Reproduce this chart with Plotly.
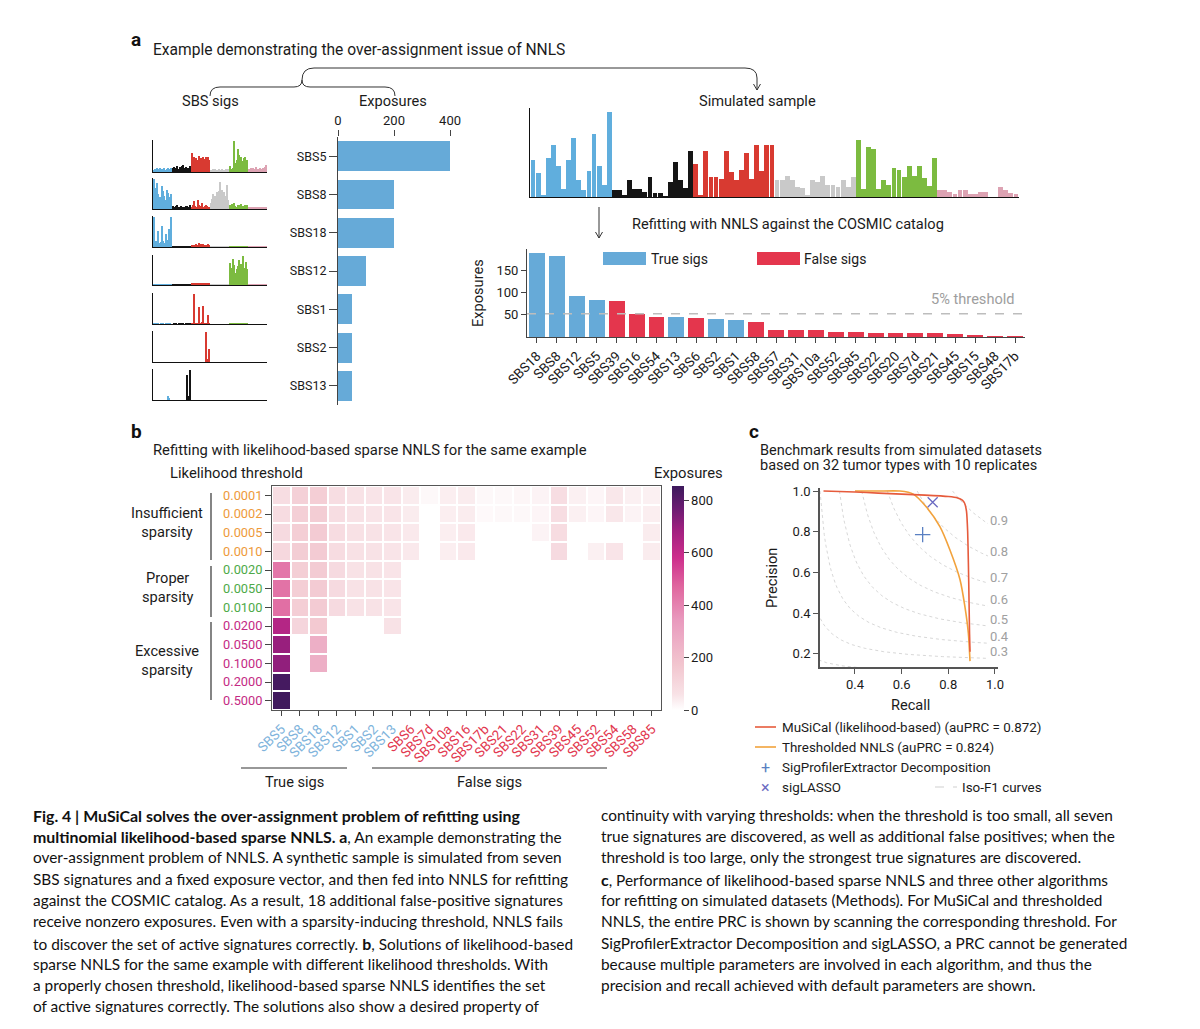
import numpy as np
import plotly.graph_objects as go

W, H = 1200, 1029
OFF = 8  # page body margin offset
FONT = "Roboto"
CAP_FONT = "Lato"
TXT = "#1b1b1b"

def fx(x):
    return (x - OFF) / W

def fy(y):
    return 1 - (y - OFF) / H

# ---------------- data ----------------
group_colors = ["#60AEDD", "#151515", "#D83A31", "#C9C9C9", "#7CBB40", "#DDA3B3"]

sig_names = ["SBS5", "SBS8", "SBS18", "SBS12", "SBS1", "SBS2", "SBS13"]
sig_sbs5 = [8, 10, 6, 12, 9, 14, 7, 11, 6, 12, 8, 10, 14, 9, 11, 13,
            12, 16, 9, 14, 18, 10, 15, 11, 19, 22, 12, 16, 10, 14, 13, 20,
            62, 34, 48, 40, 46, 38, 52, 36, 44, 38, 50, 42, 48, 36, 50, 40,
            8, 6, 9, 7, 10, 8, 6, 9, 7, 8, 9, 6, 8, 9, 7, 10,
            18, 10, 8, 12, 100, 30, 40, 75, 55, 40, 48, 35, 45, 50, 30, 38,
            10, 8, 12, 9, 14, 10, 15, 8, 11, 9, 13, 10, 12, 9, 16, 24]
sig_sbs8 = [100, 70, 55, 88, 50, 40, 35, 76, 60, 45, 30, 63, 55, 40, 30, 51,
            10, 8, 6, 9, 12, 8, 6, 10, 8, 7, 6, 9, 10, 8, 7, 12,
            8, 12, 27, 10, 8, 30, 12, 6, 11, 20, 8, 10, 14, 9, 6, 8,
            20, 35, 51, 28, 45, 57, 30, 60, 90, 40, 63, 57, 35, 45, 82, 30,
            14, 10, 18, 12, 20, 10, 8, 15, 12, 9, 18, 10, 8, 14, 10, 12,
            6, 5, 8, 4, 6, 7, 5, 6, 8, 5, 6, 4, 7, 6, 5, 6]
sig_sbs18 = [100, 15, 20, 10, 55, 12, 18, 72, 20, 12, 43, 15, 25, 60, 18, 100,
             2, 1, 2, 1, 2, 1, 1, 2, 1, 1, 2, 1, 1, 1, 2, 1,
             5, 3, 8, 4, 10, 6, 12, 5, 9, 4, 11, 6, 8, 5, 10, 4,
             1, 1, 1, 1, 1, 1, 1, 1, 1, 1, 1, 1, 1, 1, 1, 1,
             1, 1, 1, 1, 1, 1, 1, 1, 1, 1, 1, 1, 1, 1, 1, 1,
             1, 1, 1, 1, 1, 1, 1, 1, 1, 1, 1, 1, 1, 1, 1, 1]
sig_sbs12 = [3, 2, 3, 2, 3, 2, 3, 2, 3, 2, 3, 2, 3, 2, 3, 2,
             2, 2, 3, 2, 2, 3, 2, 2, 3, 2, 2, 3, 2, 2, 3, 2,
             4, 6, 3, 5, 7, 4, 6, 3, 5, 8, 4, 6, 3, 7, 4, 5,
             1, 1, 1, 1, 1, 1, 1, 1, 1, 1, 1, 1, 1, 1, 1, 1,
             78, 45, 60, 90, 70, 40, 55, 65, 85, 50, 72, 100, 60, 45, 80, 55,
             2, 2, 2, 2, 2, 2, 2, 2, 2, 2, 2, 2, 2, 2, 2, 2]
sig_sbs1 = [1, 0, 1, 0, 1, 0, 1, 0, 1, 0, 1, 0, 1, 0, 1, 0,
            0, 1, 0, 1, 0, 1, 0, 1, 0, 1, 0, 1, 0, 1, 0, 1,
            2, 3, 100, 2, 3, 2, 56, 3, 2, 4, 60, 2, 1, 3, 31, 2,
            0, 0, 0, 0, 0, 0, 0, 0, 0, 0, 0, 0, 0, 0, 0, 0,
            1, 1, 2, 1, 1, 1, 1, 1, 2, 1, 1, 1, 1, 1, 2, 1,
            0, 0, 0, 0, 0, 0, 0, 0, 0, 0, 0, 0, 0, 0, 0, 0]
sig_sbs2 = [0, 0, 0, 0, 0, 0, 0, 0, 0, 0, 0, 0, 0, 0, 0, 0,
            0, 0, 0, 0, 0, 0, 0, 0, 0, 0, 0, 0, 0, 0, 0, 0,
            0, 0, 0, 0, 0, 0, 0, 0, 0, 0, 0, 0, 100, 10, 0, 45,
            0, 0, 0, 0, 0, 0, 0, 0, 0, 0, 0, 0, 0, 0, 0, 0,
            0, 0, 0, 0, 0, 0, 0, 0, 0, 0, 0, 0, 0, 0, 0, 0,
            0, 0, 0, 0, 0, 0, 0, 0, 0, 0, 0, 0, 0, 0, 0, 0]
sig_sbs13 = [0, 0, 0, 0, 0, 0, 0, 0, 0, 0, 0, 0, 12, 8, 0, 0,
             0, 0, 0, 0, 0, 0, 0, 0, 0, 0, 0, 0, 85, 4, 15, 100,
             0, 0, 0, 0, 0, 0, 0, 0, 0, 0, 0, 0, 0, 0, 0, 0,
             0, 0, 0, 0, 0, 0, 0, 0, 0, 0, 0, 0, 0, 0, 0, 0,
             0, 0, 0, 0, 0, 0, 0, 0, 0, 0, 0, 0, 0, 0, 0, 0,
             0, 0, 0, 0, 0, 0, 0, 0, 0, 0, 0, 0, 0, 0, 0, 0]
sig_profiles = [sig_sbs5, sig_sbs8, sig_sbs18, sig_sbs12, sig_sbs1, sig_sbs2, sig_sbs13]

exp_values = [400, 200, 200, 100, 50, 50, 50]

sim_sample = [110, 70, 5, 115, 155, 92, 25, 110, 175, 50, 20, 77, 188, 92, 37, 254,
              22, 22, 5, 50, 25, 25, 15, 60, 12, 12, 2, 45, 105, 50, 27, 137,
              99, 5, 137, 60, 60, 55, 137, 75, 52, 80, 130, 55, 155, 77, 155, 155,
              50, 52, 64, 50, 30, 27, 3, 52, 45, 62, 37, 37, 30, 52, 30, 60,
              170, 25, 149, 142, 25, 52, 37, 87, 79, 60, 92, 62, 92, 57, 32, 115,
              20, 22, 14, 10, 20, 20, 10, 10, 14, 14, 0, 0, 30, 20, 12, 10]

nnls_sigs = ["SBS18", "SBS8", "SBS12", "SBS5", "SBS39", "SBS16", "SBS54", "SBS13", "SBS6",
             "SBS2", "SBS1", "SBS58", "SBS57", "SBS31", "SBS10a", "SBS52", "SBS85", "SBS22",
             "SBS20", "SBS7d", "SBS21", "SBS45", "SBS15", "SBS48", "SBS17b"]
nnls_values = [189, 183, 92, 83, 81, 52, 45, 45, 43, 41, 39, 34, 16, 16, 16, 12, 12, 10,
               10, 10, 10, 7, 3, 1, 1]

heat_thresholds = ["0.0001", "0.0002", "0.0005", "0.0010", "0.0020", "0.0050", "0.0100",
                   "0.0200", "0.0500", "0.1000", "0.2000", "0.5000"]
heat_groups = ["insufficient"] * 4 + ["proper"] * 3 + ["excessive"] * 5
heat_sigs = ["SBS5", "SBS8", "SBS18", "SBS12", "SBS1", "SBS2", "SBS13", "SBS6", "SBS7d",
             "SBS10a", "SBS16", "SBS17b", "SBS21", "SBS22", "SBS31", "SBS39", "SBS45",
             "SBS52", "SBS54", "SBS58", "SBS85"]
heat_values = [
    [80, 130, 140, 80, 60, 55, 55, 40, 15, 35, 40, 15, 15, 18, 25, 80, 30, 20, 50, 30, 30],
    [85, 135, 145, 80, 60, 55, 55, 40, 0, 35, 40, 12, 15, 15, 20, 80, 30, 20, 50, 25, 35],
    [90, 140, 150, 85, 65, 60, 55, 45, 0, 35, 45, 0, 0, 0, 25, 85, 0, 0, 0, 0, 40],
    [100, 145, 150, 85, 65, 60, 55, 45, 0, 35, 45, 0, 0, 0, 0, 90, 0, 30, 55, 0, 40],
    [430, 140, 150, 90, 60, 60, 55, 0, 0, 0, 0, 0, 0, 0, 0, 0, 0, 0, 0, 0, 0],
    [440, 140, 150, 90, 60, 60, 55, 0, 0, 0, 0, 0, 0, 0, 0, 0, 0, 0, 0, 0, 0],
    [450, 140, 150, 90, 60, 60, 55, 0, 0, 0, 0, 0, 0, 0, 0, 0, 0, 0, 0, 0, 0],
    [640, 110, 160, 0, 0, 0, 60, 0, 0, 0, 0, 0, 0, 0, 0, 0, 0, 0, 0, 0, 0],
    [700, 0, 260, 0, 0, 0, 0, 0, 0, 0, 0, 0, 0, 0, 0, 0, 0, 0, 0, 0, 0],
    [710, 0, 260, 0, 0, 0, 0, 0, 0, 0, 0, 0, 0, 0, 0, 0, 0, 0, 0, 0, 0],
    [840, 0, 0, 0, 0, 0, 0, 0, 0, 0, 0, 0, 0, 0, 0, 0, 0, 0, 0, 0, 0],
    [850, 0, 0, 0, 0, 0, 0, 0, 0, 0, 0, 0, 0, 0, 0, 0, 0, 0, 0, 0, 0],
]

musical_recall = [0.265, 0.40, 0.50, 0.60, 0.70, 0.80, 0.84, 0.86, 0.870, 0.878, 0.883,
                  0.886, 0.889, 0.891, 0.893]
musical_precision = [1.0, 0.995, 0.99, 0.985, 0.98, 0.973, 0.966, 0.955, 0.94, 0.90, 0.80,
                     0.65, 0.45, 0.30, 0.21]
tnnls_recall = [0.40, 0.50, 0.593, 0.65, 0.707, 0.764, 0.807, 0.85, 0.871, 0.886, 0.893]
tnnls_precision = [1.0, 1.0, 1.0, 0.985, 0.92, 0.825, 0.71, 0.565, 0.433, 0.30, 0.164]
spe_recall, spe_precision = [0.69], [0.786]
siglasso_recall, siglasso_precision = [0.733], [0.945]
iso_f1_levels = [0.1, 0.2, 0.3, 0.4, 0.5, 0.6, 0.7, 0.8, 0.9]

# ---------------- colors ----------------
TRUE_C = "#66AAD8"
FALSE_C = "#E4364D"
TRUE_TXT = "#7FB4DC"
FALSE_TXT = "#E2384F"
GRP_C = {"insufficient": "#EE9A3A", "proper": "#4EAA48", "excessive": "#C42A84"}
MUSICAL_C = "#E65B3C"
TNNLS_C = "#F2A23C"
SPE_C = "#5A80C2"
LASSO_C = "#6B6BC2"
HEAT_SCALE = [[0.0, "#FFFFFF"], [0.07, "#F8E2E6"], [0.2, "#F2C6CF"], [0.4, "#E99ABE"],
              [0.55, "#E0679F"], [0.68, "#CD2E8C"], [0.8, "#A22080"], [0.9, "#6B1C72"],
              [1.0, "#3D1A5C"]]

# ---------------- figure scaffolding ----------------
fig = go.Figure()
layout = dict(width=W, height=H, margin=dict(l=0, r=0, t=0, b=0, pad=0, autoexpand=False),
              paper_bgcolor="white", plot_bgcolor="white", showlegend=False,
              font=dict(family=FONT, size=13, color=TXT), bargap=0)
annotations = []
shapes = []
axn = [0]

BASE = dict(showgrid=False, zeroline=False, fixedrange=True, automargin=False)


def new_axes(xpx, ypx, xkw, ykw):
    axn[0] += 1
    s = "" if axn[0] == 1 else str(axn[0])
    xk = dict(BASE); xk.update(xkw)
    yk = dict(BASE); yk.update(ykw)
    layout["xaxis" + s] = dict(domain=[fx(xpx[0]), fx(xpx[1])], anchor="y" + s, **xk)
    layout["yaxis" + s] = dict(domain=[fy(ypx[1]), fy(ypx[0])], anchor="x" + s, **yk)
    return "x" + s, "y" + s


def ann(text, x, y, size=14.6, xanchor="left", yanchor="middle", color=TXT,
        family=FONT, angle=0, align="left"):
    if xanchor == "left":
        x -= 2
    annotations.append(dict(text=text, x=fx(x), y=fy(y), xref="paper", yref="paper",
                            xanchor=xanchor, yanchor=yanchor, showarrow=False,
                            textangle=angle, align=align,
                            font=dict(size=size, color=color, family=family)))


def pline(x0, y0, x1, y1, color="#333", width=1, dash=None):
    d = dict(type="line", xref="paper", yref="paper", x0=fx(x0), y0=fy(y0),
             x1=fx(x1), y1=fy(y1), line=dict(color=color, width=width))
    if dash:
        d["line"]["dash"] = dash
    shapes.append(d)


def ppath(cmds, color="#333", width=1):
    parts = []
    for c in cmds:
        op, pts = c[0], c[1:]
        coords = " ".join(f"{fx(pts[i]):.5f},{fy(pts[i + 1]):.5f}" for i in range(0, len(pts), 2))
        parts.append(f"{op} {coords}")
    shapes.append(dict(type="path", xref="paper", yref="paper", path=" ".join(parts),
                       line=dict(color=color, width=width)))


ch_colors = [c for c in group_colors for _ in range(16)]

# ---------------- panel a: signatures ----------------
rows_px = [(140, 172), (178, 209), (216, 247), (255, 285), (293, 324), (331, 362), (369, 400)]
for prof, (top, bot) in zip(sig_profiles, rows_px):
    xa, ya = new_axes((153, 267), (top, bot),
                      dict(range=[-0.6, 95.6], showline=True, linecolor="#111", linewidth=1,
                           showticklabels=False, ticks=""),
                      dict(range=[0, max(prof) * 1.04], showline=True, linecolor="#111",
                           linewidth=1, showticklabels=False, ticks=""))
    fig.add_trace(go.Bar(x=list(range(96)), y=prof, width=0.85,
                         marker=dict(color=ch_colors, line=dict(width=0)),
                         xaxis=xa, yaxis=ya, hoverinfo="skip"))

# exposures
xa, ya = new_axes((338, 452), (137, 405),
                  dict(range=[0, 407], side="top", tickvals=[0, 200, 400], ticks="outside",
                       ticklen=6, tickcolor="#444", showline=False,
                       tickfont=dict(size=13, color=TXT)),
                  dict(type="category", categoryorder="array", categoryarray=sig_names,
                       autorange="reversed", ticks="outside", ticklen=8, tickcolor="#444",
                       showline=True, linecolor="#444", linewidth=1,
                       tickfont=dict(size=12.5, color=TXT)))
fig.add_trace(go.Bar(x=exp_values, y=sig_names, orientation="h", width=0.78,
                     marker=dict(color=TRUE_C, line=dict(width=0)),
                     xaxis=xa, yaxis=ya, hoverinfo="skip"))

# simulated sample
xa, ya = new_axes((530, 1019), (108, 197),
                  dict(range=[-0.6, 95.6], showline=True, linecolor="#111", linewidth=1.2,
                       showticklabels=False, ticks=""),
                  dict(range=[0, 265], showline=True, linecolor="#111", linewidth=1.2,
                       showticklabels=False, ticks=""))
fig.add_trace(go.Bar(x=list(range(96)), y=sim_sample, width=0.96,
                     marker=dict(color=ch_colors, line=dict(width=0)),
                     xaxis=xa, yaxis=ya, hoverinfo="skip"))

# NNLS refit
true_set = set(sig_names)
nnls_colors = [TRUE_C if s in true_set else FALSE_C for s in nnls_sigs]
xa, ya = new_axes((527, 1025), (249, 337),
                  dict(type="category", range=[-0.5, len(nnls_sigs) - 0.5], tickangle=-45,
                       ticks="outside", ticklen=5, tickcolor="#444", showline=True,
                       linecolor="#444", linewidth=1, tickfont=dict(size=13.5, color=TXT)),
                  dict(range=[0, 198], tickvals=[50, 100, 150], ticks="outside", ticklen=5,
                       tickcolor="#444", showline=True, linecolor="#444", linewidth=1,
                       tickfont=dict(size=13, color=TXT)))
fig.add_trace(go.Bar(x=nnls_sigs, y=nnls_values, width=0.8,
                     marker=dict(color=nnls_colors, line=dict(width=0)),
                     xaxis=xa, yaxis=ya, hoverinfo="skip"))
threshold_value = 0.05 * sum(exp_values)
shapes.append(dict(type="line", xref=f"{xa} domain", yref=ya, x0=0, x1=1,
                   y0=threshold_value, y1=threshold_value,
                   line=dict(color="#BDBDBD", width=1.5, dash="dash")))

# ---------------- panel b: heatmap ----------------
z = [[(v if v > 0 else None) for v in row] for row in heat_values]
xtt = [f'<span style="color:{TRUE_TXT if s in true_set else FALSE_TXT}">{s}</span>' for s in heat_sigs]
ytt = [f'<span style="color:{GRP_C[g]}">{t}</span>' for t, g in zip(heat_thresholds, heat_groups)]
xa, ya = new_axes((272, 661), (486, 710),
                  dict(range=[-0.5, len(heat_sigs) - 0.5], tickvals=list(range(len(heat_sigs))),
                       ticktext=xtt, tickangle=-45, ticks="outside", ticklen=5, tickcolor="#444",
                       showline=True, mirror=True, linecolor="#555", linewidth=1,
                       tickfont=dict(size=13.5)),
                  dict(range=[len(heat_thresholds) - 0.5, -0.5],
                       tickvals=list(range(len(heat_thresholds))), ticktext=ytt,
                       ticks="outside", ticklen=6, tickcolor="#444", showline=True, mirror=True,
                       linecolor="#555", linewidth=1, tickfont=dict(size=12.8)))
fig.add_trace(go.Heatmap(z=z, x=list(range(len(heat_sigs))), y=list(range(len(heat_thresholds))),
                         colorscale=HEAT_SCALE, zmin=0, zmax=855, xgap=2, ygap=2,
                         hoverinfo="skip", xaxis=xa, yaxis=ya,
                         colorbar=dict(x=fx(672), xanchor="left", y=fy(710), yanchor="bottom",
                                       len=224 / H, lenmode="fraction", thickness=12,
                                       xpad=0, ypad=0, outlinewidth=0,
                                       tickvals=[0, 200, 400, 600, 800], ticks="outside",
                                       ticklen=5, tickcolor="#444",
                                       tickfont=dict(size=13, color=TXT))))

# ---------------- panel c: PR curves ----------------
xa, ya = new_axes((820, 998), (488, 667),
                  dict(range=[0.25, 1.013], tickvals=[0.4, 0.6, 0.8, 1.0],
                       ticktext=["0.4", "0.6", "0.8", "1.0"], ticks="outside", ticklen=5,
                       tickcolor="#555", showline=True, linecolor="#555", linewidth=1.5,
                       tickfont=dict(size=13, color=TXT)),
                  dict(range=[0.135, 1.015], tickvals=[0.2, 0.4, 0.6, 0.8, 1.0],
                       ticktext=["0.2", "0.4", "0.6", "0.8", "1.0"], ticks="outside",
                       ticklen=5, tickcolor="#555", showline=True, linecolor="#555",
                       linewidth=1.5, tickfont=dict(size=13, color=TXT)))
for f in iso_f1_levels:
    r = np.linspace(max(f / (2 - f) + 1e-6, 0.2), 0.97, 120)
    p = f * r / (2 * r - f)
    fig.add_trace(go.Scatter(x=r, y=p, mode="lines", xaxis=xa, yaxis=ya, hoverinfo="skip",
                             line=dict(color="#D2D2D2", width=0.9, dash="3px,3px")))
    if f >= 0.3:
        annotations.append(dict(text=f"{f:.1f}", x=0.972, y=f / (2 - f) + 0.036, xref=xa,
                                yref=ya, xanchor="left", yanchor="middle", showarrow=False,
                                font=dict(size=13, color="#A0A0A0", family=FONT)))
fig.add_trace(go.Scatter(x=tnnls_recall, y=tnnls_precision, mode="lines", xaxis=xa, yaxis=ya,
                         line=dict(color=TNNLS_C, width=1.6, shape="spline", smoothing=0.6),
                         hoverinfo="skip"))
fig.add_trace(go.Scatter(x=musical_recall, y=musical_precision, mode="lines", xaxis=xa, yaxis=ya,
                         line=dict(color=MUSICAL_C, width=1.6, shape="spline", smoothing=0.5),
                         hoverinfo="skip"))
fig.add_trace(go.Scatter(x=spe_recall, y=spe_precision, mode="markers", xaxis=xa, yaxis=ya,
                         marker=dict(symbol="cross-thin", size=11, line=dict(color=SPE_C, width=1.3)),
                         hoverinfo="skip"))
fig.add_trace(go.Scatter(x=siglasso_recall, y=siglasso_precision, mode="markers", xaxis=xa,
                         yaxis=ya,
                         marker=dict(symbol="x-thin", size=10, line=dict(color=LASSO_C, width=1.3)),
                         hoverinfo="skip"))

# ---------------- texts & decorations ----------------
ann("<b>a</b>", 131, 39, size=19, xanchor="left", color="#111")
ann("Example demonstrating the over-assignment issue of NNLS", 153, 50, size=15.6)
ann("SBS sigs", 210, 101, xanchor="center")
ann("Exposures", 393, 101, xanchor="center")
ann("Simulated sample", 757, 101, xanchor="center")
ann("Refitting with NNLS against the COSMIC catalog", 632, 224)
ann("Exposures", 478, 293, xanchor="center", angle=-90)
ann("5% threshold", 1017, 299, size=14.6, xanchor="right", color="#9E9E9E")
shapes.append(dict(type="rect", xref="paper", yref="paper", x0=fx(603), x1=fx(646),
                   y0=fy(265), y1=fy(252), fillcolor=TRUE_C, line=dict(width=0)))
shapes.append(dict(type="rect", xref="paper", yref="paper", x0=fx(757), x1=fx(800),
                   y0=fy(265), y1=fy(252), fillcolor=FALSE_C, line=dict(width=0)))
ann("True sigs", 651, 259, size=14)
ann("False sigs", 804, 259, size=14)

# braces and arrows
ppath([("M", 210, 96), ("Q", 210, 87, 220, 87), ("L", 294, 87), ("Q", 302, 87, 302, 80),
       ("Q", 302, 87, 310, 87), ("L", 385, 87), ("Q", 395, 87, 395, 96)], color="#333", width=1)
ppath([("M", 302, 80), ("Q", 302, 68, 314, 68), ("L", 745, 68), ("Q", 757, 68, 757, 78),
       ("L", 757, 90)], color="#333", width=1)
ppath([("M", 753.5, 84), ("L", 757, 90), ("L", 760.5, 84)], color="#333", width=1)
pline(599, 207, 599, 238, color="#333", width=1)
ppath([("M", 595.5, 232), ("L", 599, 238), ("L", 602.5, 232)], color="#333", width=1)

# panel b texts
ann("<b>b</b>", 131, 431, size=19, color="#111")
ann("Refitting with likelihood-based sparse NNLS for the same example", 153, 450, size=14.8)
ann("Likelihood threshold", 170, 473, size=14.8)
ann("Exposures", 654, 473, size=14.8)
ann("Insufficient<br>sparsity", 167, 522, xanchor="center", align="center")
ann("Proper<br>sparsity", 167, 587, xanchor="center", align="center")
ann("Excessive<br>sparsity", 167, 660, xanchor="center", align="center")
pline(211, 493, 211, 560, color="#333", width=1.2)
pline(211, 566, 211, 617, color="#333", width=1.2)
pline(211, 622, 211, 700, color="#333", width=1.2)
pline(241, 768, 347, 768, color="#333", width=1.2)
pline(372, 768, 607, 768, color="#333", width=1.2)
ann("True sigs", 294, 782, xanchor="center")
ann("False sigs", 489, 782, xanchor="center")

# panel c texts
ann("<b>c</b>", 749, 431, size=19, color="#111")
ann("Benchmark results from simulated datasets", 760, 450, size=14.5)
ann("based on 32 tumor types with 10 replicates", 760, 466, size=14.5)
ann("Precision", 772, 578, xanchor="center", angle=-90)
ann("Recall", 910, 705, xanchor="center")
pline(755, 727, 776, 727, color=MUSICAL_C, width=1.6)
ann("MuSiCal (likelihood-based) (auPRC = 0.872)", 782, 727, size=13.4)
pline(755, 747, 776, 747, color=TNNLS_C, width=1.6)
ann("Thresholded NNLS (auPRC = 0.824)", 782, 747, size=13.4)
ann("+", 765, 767, size=16, xanchor="center", color=SPE_C)
ann("SigProfilerExtractor Decomposition", 782, 767, size=13.4)
ann("×", 765, 787, size=16, xanchor="center", color=LASSO_C)
ann("sigLASSO", 782, 787, size=13.4)
pline(935, 787, 957, 787, color="#CFCFCF", width=1, dash="dash")
ann("Iso-F1 curves", 962, 787, size=13.4)

# ---------------- caption ----------------
def B(t):
    return f'<span style="font-size:15.9px"><b>{t}</b></span>'

cap_left = [
    B("Fig. 4 | MuSiCal solves the over-assignment problem of refitting using"),
    B("multinomial likelihood-based sparse NNLS. a") + ", An example demonstrating the",
    "over-assignment problem of NNLS. A synthetic sample is simulated from seven",
    "SBS signatures and a fixed exposure vector, and then fed into NNLS for refitting",
    "against the COSMIC catalog. As a result, 18 additional false-positive signatures",
    "receive nonzero exposures. Even with a sparsity-inducing threshold, NNLS fails",
    "to discover the set of active signatures correctly. " + B("b") + ", Solutions of likelihood-based",
    "sparse NNLS for the same example with different likelihood thresholds. With",
    "a properly chosen threshold, likelihood-based sparse NNLS identifies the set",
    "of active signatures correctly. The solutions also show a desired property of",
]
cap_right = [
    "continuity with varying thresholds: when the threshold is too small, all seven",
    "true signatures are discovered, as well as additional false positives; when the",
    "threshold is too large, only the strongest true signatures are discovered.",
    B("c") + ", Performance of likelihood-based sparse NNLS and three other algorithms",
    "for refitting on simulated datasets (Methods). For MuSiCal and thresholded",
    "NNLS, the entire PRC is shown by scanning the corresponding threshold. For",
    "SigProfilerExtractor Decomposition and sigLASSO, a PRC cannot be generated",
    "because multiple parameters are involved in each algorithm, and thus the",
    "precision and recall achieved with default parameters are shown.",
]
line_y = [815, 836, 857, 879, 900, 921, 943, 964, 985, 1006]
for t, yy in zip(cap_left, line_y):
    ann(t, 33, yy, size=15.4, family=CAP_FONT, color="#111")
for t, yy in zip(cap_right, line_y):
    ann(t, 601, yy, size=15.4, family=CAP_FONT, color="#111")

layout["annotations"] = annotations
layout["shapes"] = shapes
fig.update_layout(**layout)
fig.write_html("out.html")
